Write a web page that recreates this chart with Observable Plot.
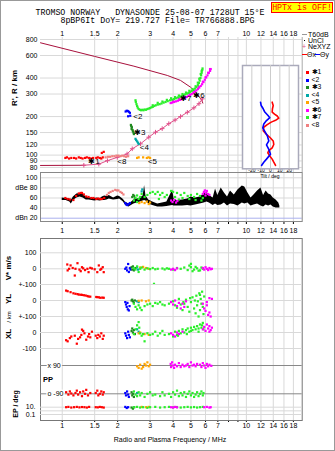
<!DOCTYPE html>
<html><head><meta charset="utf-8">
<script src="https://cdn.jsdelivr.net/npm/d3@7"></script>
<script src="https://cdn.jsdelivr.net/npm/@observablehq/plot@0.6"></script>
<style>
body{margin:0;background:#fff;}
#c{position:relative;width:335px;height:451px;overflow:hidden;background:#fff;font-family:"Liberation Sans",Arial,sans-serif;color:#000;}
#c svg{position:absolute;left:0;top:0;}
.t{position:absolute;white-space:nowrap;font-size:7px;line-height:1;}
.cc{transform:translate(-50%,-50%);}
.rot{transform:translate(-50%,-50%) rotate(-90deg);font-weight:bold;}
.mono{font-family:"Liberation Mono","DejaVu Sans Mono",monospace;font-size:8.3px;line-height:7px;}
#border{position:absolute;left:0;top:0;width:333px;height:449px;border:1px solid #999;pointer-events:none;}
</style></head><body><div id="c"></div>
<script>
// ---------- axes / ticks ----------
const topTicks = [1,1.5,2,3,4,5,6,7,8,10,12,14,16,18];
const botTicks = [1,1.5,2,3,4,5,6,7,8,9,10,12,14,16,18];
const htTicks = [80,90,100,120,150,200,300,400,600,800];
const dbTicks = [20,40,60,80,100];
const tiltTicks = [-20,-10,0,10,20];

// ---------- main panel: virtual height curve & Ne profile ----------
const virtF = [0.762,1.5,2.45,3.72,4.39,4.98,5.30,5.55,5.72,5.80];
const virtR = [754,590,495,419,383,339,310,285,268,255];
const neF = [0.762,1.31,1.58,1.76,1.99,2.25,2.40,2.66,2.95,3.21,3.49,3.79,4.1,4.39,4.78,5.19,5.53,5.77];
const neR = [83,83.3,85,90.5,96,102,112,122.5,138,151,161,176,188,200,216,234,252,275];

// ---------- main panel: echo traces per mode [MHz, km] ----------
const ht1 = [[1.04,95],[1.06,96],[1.09,94],[1.12,95],[1.16,95],[1.19,94],[1.23,96],[1.26,95],[1.29,94],[1.33,95],[1.36,96],[1.4,95],[1.43,94],[1.47,95],[1.53,95],[1.56,96],[1.6,95],[1.63,94],[1.66,96],[1.64,104],[1.68,106]];
const ht2 = [[2.21,219],[2.24,222],[2.27,221],[2.30,218],[2.33,214],[2.28,201],[2.34,203]];
const ht3 = [[2.36,172],[2.37,168],[2.39,165],[2.38,160],[2.41,157],[2.42,153],[2.44,150],[2.45,146]];
const ht4 = [[2.50,134],[2.52,131],[2.55,128],[2.58,125],[2.60,122]];
const ht5 = [[2.55,95],[2.60,96],[2.75,96],[2.88,95],[2.94,96],[3.0,95]];
const ht6 = [[3.88,255],[3.95,257],[4.05,260],[4.15,263],[4.25,266],[4.35,270],[4.45,273],[4.55,277],[4.65,281],[4.75,285],[4.85,290],[4.95,295],[5.05,300],[5.15,306],[5.25,313],[5.35,320],[5.45,328],[5.55,337],[5.65,347],[5.75,358],[5.85,372],[5.95,388],[6.05,405],[6.15,420],[6.25,438],[6.35,455],[6.40,470],[4.0,265],[4.3,276],[4.6,288],[4.9,302],[5.2,318],[5.5,342],[5.8,375],[6.0,405],[6.2,440],[6.35,470]];
const ht7 = [[2.50,268],[2.51,260],[2.53,250],[2.55,242],[2.57,235],[2.60,229],[2.64,226],[2.68,224],[2.72,226],[2.76,224],[2.80,227],[2.85,226],[2.90,229],[2.95,231],[3.0,233],[3.05,236],[3.10,238],[3.16,242],[3.22,245],[3.30,248],[3.38,250],[3.46,253],[3.55,257],[3.64,260],[3.74,264],[3.85,268],[3.95,271],[4.05,274],[4.15,278],[4.25,282],[4.35,286],[4.45,290],[4.55,294],[4.65,298],[4.75,302],[4.85,306],[4.95,311],[5.05,317],[5.15,323],[5.25,331],[5.35,340],[5.45,352],[5.52,366],[5.58,382],[5.63,400],[5.68,420],[5.72,440],[5.76,462],[5.78,475],[3.1,245],[3.3,256],[3.5,262],[3.7,270],[3.9,278],[4.1,284],[4.3,292],[4.5,300],[4.7,308],[4.9,318],[5.1,328],[5.3,345],[5.45,368],[5.55,395],[5.65,430],[5.72,455]];
const ht8 = [[1.72,96],[1.77,97],[1.82,97],[1.87,98],[1.92,98],[1.97,99],[2.02,99],[2.07,98],[2.12,99],[2.17,98],[2.22,97],[2.28,98]];
const labF = [1.384,2.43,2.45,2.64,2.92,5.15,4.36,1.99];
const labR = [89,199,151,115,90,295,279,90];
const labT = ["\u27311","<2","\u27313","<4","<5","\u27316","\u27317","<8"];

// ---------- tilt inset [deg, km] ----------
const tiltY = [[-10.7,259],[-10,244],[-7.8,230],[-6.1,217],[-2.9,205],[-0.7,196],[-4.3,186],[-7.2,175],[-8.3,163],[-6.1,153],[-3.5,142],[-1.8,129],[-4.3,120],[-1.8,111],[0,101.5],[-4.3,93],[-7.2,88],[-9.6,83]];
const tiltX = [[1.8,259],[2.9,244],[2.1,230],[1.8,217],[4.3,209],[7.2,202],[8.9,194.5],[5.4,187],[0.8,181],[-3.5,173],[-7.2,165],[-7.8,155],[-4.3,145],[0,136],[2.9,129],[3.5,121],[1.8,114],[-1.8,108.5],[-2.9,104],[-0.8,98.5],[1.8,93],[3.5,88],[5.4,83]];

// ---------- amplitude panel [MHz, dB] ----------
const amp = [[1.0,55,60],[1.05,55,59],[1.1,52,58],[1.12,48,55],[1.15,55,62],[1.2,60,68],[1.25,62,69],[1.3,60,67],[1.35,56,62],[1.4,56,60],[1.45,55,60],[1.5,54,59],[1.55,55,60],[1.6,54,58],[1.65,55,62],[1.7,55,64],[1.75,56,63],[1.8,58,65],[1.9,56,60],[2.0,57,64],[2.05,58,63],[2.1,55,60],[2.15,52,57],[2.2,46,52],[2.3,42,48],[2.35,44,50],[2.45,48,56],[2.55,50,58],[2.65,52,60],[2.75,54,64],[2.8,55,85],[2.85,54,64],[2.95,48,56],[3.1,45,52],[3.3,42,48],[3.5,42,50],[3.7,43,52],[3.98,45,76],[4.05,44,58],[4.2,44,55],[4.5,44,56],[4.8,45,58],[5.0,44,62],[5.3,46,60],[5.6,48,62],[5.9,50,68],[6.1,52,72],[6.3,50,65],[6.6,45,60],[6.8,48,78],[7.0,45,65],[7.3,46,80],[7.6,50,70],[7.9,44,62],[8.2,48,74],[8.6,47,66],[9.0,44,76],[9.5,50,84],[9.8,48,82],[10.2,50,70],[10.6,44,60],[11.0,46,66],[11.5,48,74],[12.0,44,80],[12.4,42,65],[12.8,46,74],[13.2,44,68],[13.6,46,66],[14.0,42,60],[14.5,40,56],[15.0,40,50],[15.2,40,44]];
const db1 = [[1.04,60],[1.07,58],[1.1,57],[1.15,56],[1.19,64],[1.23,69],[1.26,70],[1.28,70],[1.31,67],[1.35,63],[1.39,62],[1.44,60],[1.48,60],[1.53,58],[1.57,59],[1.61,58],[1.64,58],[1.69,60]];
const db8 = [[1.75,66],[1.79,70],[1.83,72],[1.88,74],[1.94,76],[1.98,75],[2.02,75],[2.07,72],[2.11,70],[2.15,67]];
const db2 = [[2.2,50],[2.23,47],[2.26,46],[2.29,48],[2.33,50]];
const db3 = [[2.4,62],[2.43,66],[2.46,64],[2.48,60]];
const db4 = [[2.7,73],[2.72,77]];
const db5 = [[2.62,50],[2.7,52],[2.8,50],[2.88,53],[2.95,48],[3.0,51]];
const db6 = [[3.9,55],[3.97,52],[4.05,56],[4.15,51],[4.22,54],[5.8,68],[5.88,72],[5.95,75],[6.02,70],[6.1,74],[6.2,68],[6.3,66],[6.0,65]];
const db7 = [[2.45,55],[2.5,60],[2.55,65],[2.6,58],[2.65,62],[2.7,68],[2.8,62],[2.9,66],[3.0,70],[3.1,72],[3.2,68],[3.3,72],[3.4,66],[3.5,70],[3.6,62],[3.7,66],[3.9,74],[4.0,72],[4.1,62],[4.2,70],[4.4,66],[4.5,60],[4.6,70],[4.8,64],[4.9,58],[5.0,66],[5.2,62],[5.3,56],[5.4,68],[5.6,64],[5.7,55],[5.8,60],[2.55,52],[3.35,58],[4.3,57]];

// ---------- V* (m/s) ----------
const vs1 = [[1.065,27],[1.11,21],[1.21,35],[1.18,0],[1.17,-42],[1.28,10],[1.37,0],[1.39,-21],[1.42,6],[1.58,21],[1.61,-6],[1.68,-21],[1.55,-21],[1.07,-10],[1.14,5],[1.24,-5],[1.3,3],[1.33,-8],[1.45,2],[1.5,-3],[1.63,0],[1.66,10],[1.09,0],[1.26,-15]];
const vs2 = [[2.2,0],[2.23,8],[2.25,-10],[2.28,30],[2.3,-20],[2.33,5],[2.35,-5]];
const vs3 = [[2.38,10],[2.4,-5],[2.42,15],[2.45,-10],[2.47,0],[2.5,5]];
const vs4 = [[2.55,10],[2.58,-5]];
const vs5 = [[2.65,8],[2.75,12],[2.85,5],[2.95,0]];
const vs6 = [[3.9,-5],[4.0,0],[4.1,-8],[4.2,3],[5.8,5],[5.9,-5],[6.0,10],[6.1,0],[6.2,-8],[6.3,5],[6.4,-3],[6.5,0]];
const vs7 = [[2.45,5],[2.5,-5],[2.55,15],[2.6,-20],[2.65,0],[2.7,8],[2.8,-5],[2.9,3],[3.0,-2],[3.1,5],[3.15,-94],[3.2,-3],[3.3,0],[3.5,2],[3.6,-4],[3.7,3],[3.8,0],[4.0,-5],[4.2,5],[4.4,0],[4.6,8],[4.8,-8],[5.0,10],[5.0,31],[5.2,-5],[5.4,3],[5.6,-10],[5.8,0],[4.9,20],[5.1,-15],[5.3,12],[5.5,-12],[5.7,8]];

// ---------- YL (km) ----------
const yl1 = [[1.05,62],[1.07,58],[1.11,52],[1.15,45],[1.18,42],[1.21,40],[1.23,37],[1.26,36],[1.28,35],[1.31,33],[1.34,31],[1.37,28],[1.39,25],[1.42,24],[1.53,22],[1.55,21],[1.58,20],[1.61,17],[1.65,18],[1.68,17]];
const yl2 = [[2.2,-10],[2.22,-25],[2.24,-40],[2.27,-55],[2.3,-62],[2.26,-15],[2.32,-35]];
const yl3 = [[2.38,0],[2.4,5],[2.42,-5],[2.45,-15],[2.48,0]];
const yl4 = [[2.55,-5],[2.6,-10]];
const yl5 = [[2.6,-2],[2.7,0],[2.85,-5],[2.95,0]];
const yl6 = [[3.9,-10],[4.0,-25],[4.1,0],[4.2,-35],[4.3,-15],[4.4,-50],[4.5,-20],[4.6,-40],[4.7,-5],[5.8,-20],[5.9,-50],[6.0,-65],[6.1,-30],[6.2,-90],[6.3,-75],[6.4,-100],[6.5,10],[6.3,15],[6.1,-10]];
const yl7 = [[2.45,-20],[2.5,-40],[2.55,-55],[2.6,-30],[2.65,-45],[2.7,-60],[2.8,-35],[2.9,-25],[3.0,-20],[3.1,-35],[3.2,-15],[3.3,-20],[3.4,-10],[3.5,-25],[3.6,-30],[3.8,-20],[4.0,-5],[4.1,-30],[4.2,-45],[4.3,10],[4.4,-25],[4.5,-60],[4.6,-20],[4.7,5],[4.8,-40],[4.9,-70],[5.0,-10],[5.1,20],[5.2,-50],[5.3,-80],[5.35,30],[5.4,-30],[5.5,-100],[5.55,45],[5.6,-60],[5.65,10],[5.7,-20],[5.75,55],[5.8,-40],[5.85,-85],[4.95,15],[5.45,-5],[5.25,0],[4.55,-10],[5.9,25],[5.6,35]];

// ---------- XL (km) ----------
const xl1 = [[1.05,-48],[1.07,-55],[1.1,-35],[1.12,-25],[1.17,-20],[1.2,-70],[1.22,-40],[1.25,-30],[1.27,-15],[1.3,10],[1.32,-5],[1.35,-45],[1.38,-25],[1.4,-10],[1.42,-30],[1.52,-20],[1.55,-35],[1.57,-15],[1.6,-25],[1.63,-5],[1.66,-40],[1.68,-20],[1.45,5],[1.28,18]];
const xl2 = [[2.2,-5],[2.22,-20],[2.25,-35],[2.28,5],[2.3,-15],[2.33,-30]];
const xl3 = [[2.38,10],[2.4,25],[2.42,0],[2.45,15],[2.48,-10]];
const xl4 = [[2.55,20],[2.6,5]];
const xl5 = [[2.6,-5],[2.65,0],[2.8,-10],[2.95,-15]];
const xl6 = [[3.9,-5],[4.0,-15],[4.1,-25],[4.2,0],[4.3,-10],[4.5,5],[5.8,20],[5.9,35],[6.0,10],[6.1,50],[6.2,25],[6.3,40],[6.4,15],[6.5,30],[6.3,5]];
const xl7 = [[2.45,-10],[2.5,20],[2.55,45],[2.6,65],[2.62,30],[2.65,-5],[2.7,-20],[2.75,-10],[2.8,-55],[2.9,-5],[3.0,-15],[3.1,-10],[3.2,5],[3.3,-20],[3.4,-5],[3.5,10],[3.6,-15],[3.8,-10],[4.0,-25],[4.1,5],[4.2,-15],[4.3,10],[4.4,-5],[4.5,20],[4.6,0],[4.7,15],[4.8,25],[4.9,5],[5.0,30],[5.1,15],[5.2,35],[5.3,20],[5.4,40],[5.5,25],[5.6,50],[5.7,30],[5.8,60],[5.85,20],[5.0,10],[5.5,5],[4.75,-10],[4.25,-20],[5.75,45]];

// ---------- PP (deg) ----------
const pp1 = [[1.05,-80],[1.08,-95],[1.1,-75],[1.12,-88],[1.15,-100],[1.18,-85],[1.2,-70],[1.22,-95],[1.25,-80],[1.28,-105],[1.3,-75],[1.33,-90],[1.35,-65],[1.38,-100],[1.42,-85],[1.52,-85],[1.55,-70],[1.57,-100],[1.6,-90],[1.63,-75],[1.66,-95],[1.68,-80]];
const pp2 = [[2.2,-85],[2.22,-100],[2.25,-75],[2.28,-95],[2.3,-110]];
const pp3 = [[2.38,-80],[2.4,-100],[2.42,-90],[2.45,-110]];
const pp4 = [[2.55,-85]];
const pp5 = [[2.55,85],[2.6,75],[2.65,95],[2.7,70],[2.75,80],[2.8,100],[2.85,90],[2.9,110],[2.95,85],[3.0,95]];
const pp6 = [[3.88,100],[3.9,80],[3.95,110],[4.0,90],[4.05,75],[4.1,95],[4.2,85],[4.3,105],[4.4,80],[4.5,95],[4.6,85],[4.7,90],[4.8,100],[4.9,80],[5.0,110],[5.1,90],[5.2,95],[5.3,85],[5.4,100],[5.6,95],[5.7,80],[5.8,105],[5.9,90],[6.0,75],[6.1,100],[6.2,85],[6.3,95],[6.45,88]];
const pp7 = [[2.45,-75],[2.5,-95],[2.55,-105],[2.6,-80],[2.65,-100],[2.7,-85],[2.8,-110],[2.9,-90],[3.0,-80],[3.1,-100],[3.2,-95],[3.4,-105],[3.5,-80],[3.6,-100],[3.8,-90],[3.9,-110],[4.0,-80],[4.1,-95],[4.2,-70],[4.3,-105],[4.4,-85],[4.5,-100],[4.6,-80],[4.7,-110],[4.8,-90],[4.9,-75],[5.0,-100],[5.1,-85],[5.2,-110],[5.3,-95],[5.4,-80],[5.5,-105],[5.6,-90],[5.7,-75],[5.8,-100],[5.85,-85]];

// ---------- EP (deg) ----------
const ep1 = [[1.05,10],[1.08,12],[1.12,8],[1.16,10],[1.2,12],[1.24,9],[1.28,11],[1.32,10],[1.36,8],[1.4,12],[1.52,10],[1.56,9],[1.6,12],[1.64,10],[1.68,8]];
const ep2 = [[2.2,12],[2.24,6],[2.28,10]];
const ep3 = [[2.38,8],[2.42,4],[2.46,10]];
const ep5 = [[2.7,12],[2.85,10],[2.95,12]];
const ep6 = [[3.9,10],[4.0,8],[4.1,12],[4.2,9],[5.9,10],[6.1,12],[6.3,8],[6.4,10]];
const ep7 = [[2.45,10],[2.55,12],[2.65,8],[2.75,10],[2.9,7],[3.0,10],[3.2,12],[3.4,8],[3.6,10],[3.8,12],[4.0,9],[4.2,11],[4.4,8],[4.6,10],[4.8,12],[5.0,9],[5.2,11],[5.4,8],[5.6,10],[5.8,12]];

// ---------- colours ----------
const C = {m1:"#ff0000", m2:"#0000ff", m3:"#208a20", m4:"#00a8a8", m5:"#ffa500", m6:"#ff00ff", m7:"#2bef2b", m8:"#f08080"};
const MAROON = "#a8103c", PINK = "#e0508a", GRID = "#d9d9d9";

// ---------- helpers ----------
const W = 335, H = 451, XL0 = 40, XR = 301.7;
const fDomain = [0.762, 20.1];
const c = document.getElementById("c");
const P = a => a.map(([f, v]) => ({f, v}));
const sq = (a, col) => Plot.dot(P(a), {x: "f", y: "v", fill: col, r: 1.25, symbol: "square"});
const xs = extra => ({type: "log", domain: fDomain, range: [XL0, XR], axis: null, ...extra});
const baseStyle = {background: "none", overflow: "visible", fontSize: "7px", fontFamily: "Liberation Sans, Arial, sans-serif", color: "#000"};
function add(o) {
  const svg = Plot.plot({width: W, height: H, marginLeft: XL0, marginRight: W - XR, ...o, style: {...baseStyle, ...(o.style || {})}});
  c.appendChild(svg);
}
function txt(s, x, y, cls, css) {
  const d = document.createElement("div");
  d.className = "t " + (cls || "");
  d.textContent = s;
  d.style.left = x + "px"; d.style.top = y + "px";
  if (css) Object.assign(d.style, css);
  c.appendChild(d);
  return d;
}

// ---------- main height panel ----------
add({
  marginTop: 37, marginBottom: H - 172,
  x: xs({axis: "top", ticks: topTicks, tickFormat: d => String(d), tickSize: 0, tickPadding: 2, label: null}),
  y: {type: "log", domain: [80, 800], range: [167, 39], ticks: htTicks, tickFormat: d => String(d), tickSize: 0, tickPadding: 3, label: null},
  marks: [
    Plot.ruleX(botTicks, {stroke: GRID}),
    Plot.ruleY(htTicks, {stroke: GRID}),
    Plot.ruleX([fDomain[1]], {stroke: "#aaa"}),
    Plot.line(virtF.map((f, i) => ({f, r: virtR[i]})), {x: "f", y: "r", stroke: MAROON, strokeWidth: 1}),
    Plot.line(neF.slice(0, 2).map((f, i) => ({f, r: neR[i]})), {x: "f", y: "r", stroke: MAROON, strokeWidth: 1}),
    Plot.line(neF.slice(1).map((f, i) => ({f, r: neR[i + 1]})), {x: "f", y: "r", stroke: PINK, strokeWidth: 1}),
    Plot.dot(neF.slice(1).map((f, i) => ({f, r: neR[i + 1]})), {x: "f", y: "r", symbol: "plus", r: 1.6, stroke: PINK, strokeWidth: 1}),
    ...[ [ht1, C.m1], [ht8, C.m8], [ht5, C.m5], [ht2, C.m2], [ht3, C.m3], [ht4, C.m4], [ht6, C.m6], [ht7, C.m7] ].map(([a, col]) => sq(a, col)),
    Plot.text(labT.map((t, i) => ({t, f: labF[i], r: labR[i]})), {x: "f", y: "r", text: "t", textAnchor: "start", fontSize: 8, fill: "#000"})
  ]
});

// ---------- tilt inset ----------
add({
  marginLeft: 242, marginRight: W - 298, marginTop: 65, marginBottom: H - 168.3,
  x: {domain: [-30, 30], range: [242, 298], ticks: tiltTicks, tickFormat: d => String(d), tickSize: 0, tickPadding: 0, label: null},
  y: {type: "log", domain: [80, 800], range: [167, 39], axis: null},
  style: {fontSize: "5px"},
  marks: [
    Plot.frame({fill: "white", stroke: "#aab", strokeWidth: 1.5}),
    Plot.ruleX(tiltTicks, {stroke: "#ccc"}),
    Plot.line(P(tiltX), {x: "f", y: "v", stroke: "#ff0000", strokeWidth: 1.6}),
    Plot.line(P(tiltY), {x: "f", y: "v", stroke: "#0000ff", strokeWidth: 1.6})
  ]
});

// ---------- amplitude panel ----------
add({
  marginTop: 172, marginBottom: H - 221,
  x: xs({axis: "bottom", ticks: botTicks, tickFormat: d => String(d), tickSize: 3, tickPadding: 4, label: null}),
  y: {domain: [20, 100], range: [217.7, 177.3], ticks: dbTicks, tickFormat: d => d === 80 ? "dBe 80" : d === 20 ? "dBn 20" : String(d), tickSize: 0, tickPadding: 3, label: null},
  marks: [
    Plot.ruleX(botTicks, {stroke: GRID}),
    Plot.ruleY([40, 60, 80, 100], {stroke: GRID}),
    Plot.ruleY([20], {stroke: "#aab0ee"}),
    Plot.frame({stroke: "#888", strokeWidth: 1}),
    Plot.areaY(amp.map(([f, lo, hi]) => ({f, lo, hi})), {x: "f", y1: "lo", y2: "hi", fill: "#000"}),
    ...[ [db1, C.m1], [db8, C.m8], [db2, C.m2], [db3, C.m3], [db5, C.m5], [db7, C.m7], [db4, C.m4], [db6, C.m6] ].map(([a, col]) => sq(a, col))
  ]
});

// ---------- lower panel frame ----------
add({
  marginTop: 238, marginBottom: H - 420,
  x: xs({axis: "bottom", ticks: botTicks, tickFormat: d => String(d), tickSize: 2, tickPadding: 1, label: null}),
  y: {domain: [0, 1], axis: null},
  marks: [
    Plot.ruleX(botTicks, {stroke: GRID}),
    Plot.frame({stroke: "#777"})
  ]
});

// V*
add({
  marginTop: 238, marginBottom: H - 420,
  x: xs(),
  y: {domain: [-100, 100], range: [284.3, 252.3], ticks: [100, 0], tickFormat: d => String(d), tickSize: 0, tickPadding: 4, label: null},
  marks: [
    Plot.ruleY([100, 0], {stroke: GRID}),
    ...[ [vs1, C.m1], [vs2, C.m2], [vs3, C.m3], [vs4, C.m4], [vs5, C.m5], [vs7, C.m7], [vs6, C.m6] ].map(([a, col]) => sq(a, col))
  ]
});
// YL
add({
  marginTop: 238, marginBottom: H - 420,
  x: xs(),
  y: {domain: [-100, 100], range: [316, 284], ticks: [100, 0, -100], tickFormat: d => d === 0 ? "0" : "+-100", tickSize: 0, tickPadding: 4, label: null},
  marks: [
    Plot.ruleY([100, 0, -100], {stroke: GRID}),
    ...[ [yl1, C.m1], [yl2, C.m2], [yl3, C.m3], [yl4, C.m4], [yl5, C.m5], [yl7, C.m7], [yl6, C.m6] ].map(([a, col]) => sq(a, col))
  ]
});
// XL
add({
  marginTop: 238, marginBottom: H - 420,
  x: xs(),
  y: {domain: [-100, 100], range: [348, 316], ticks: [0, -100], tickFormat: d => String(d), tickSize: 0, tickPadding: 4, label: null},
  marks: [
    Plot.ruleY([0, -100], {stroke: GRID}),
    ...[ [xl1, C.m1], [xl2, C.m2], [xl3, C.m3], [xl4, C.m4], [xl5, C.m5], [xl7, C.m7], [xl6, C.m6] ].map(([a, col]) => sq(a, col))
  ]
});
// PP
add({
  marginTop: 238, marginBottom: H - 420,
  x: xs(),
  y: {domain: [-90, 90], range: [393.3, 365], axis: null},
  marks: [
    Plot.ruleY([90, -90], {stroke: "#888"}),
    Plot.text([90, -90], {y: d => d, text: d => d > 0 ? "x 90" : "o -90", frameAnchor: "left", dx: 7, textAnchor: "start", fontSize: 7, fill: "#000", stroke: "white", strokeWidth: 3}),
    ...[ [pp1, C.m1], [pp2, C.m2], [pp3, C.m3], [pp4, C.m4], [pp5, C.m5], [pp7, C.m7], [pp6, C.m6] ].map(([a, col]) => sq(a, col))
  ]
});
// EP
add({
  marginTop: 238, marginBottom: H - 420,
  x: xs(),
  y: {type: "log", domain: [0.1, 10], range: [414, 406.7], ticks: [10, 0.1], tickFormat: d => d === 10 ? "10." : "0.1", tickSize: 0, tickPadding: 5, label: null},
  marks: [
    Plot.ruleY([10, 1, 0.1], {stroke: GRID}),
    ...[ [ep1, C.m1], [ep2, C.m2], [ep3, C.m3], [ep5, C.m5], [ep7, C.m7], [ep6, C.m6] ].map(([a, col]) => sq(a, col))
  ]
});

// ---------- texts ----------
txt("TROMSO NORWAY   DYNASONDE 25-08-07 1728UT 15\u00B0E", 150, 12.3, "cc mono", {whiteSpace: "pre"});
txt("8pBP6It DoY= 219.727 File= TR766888.BPG", 157.5, 19.9, "cc mono", {whiteSpace: "pre"});
txt("HPTx is OFF!", 271, 2, "mono", {width: "60px", height: "9px", background: "#ffff00", border: "1px solid #ff0000", color: "#ff0000", textAlign: "center", lineHeight: "9px"});
txt("R', R / km", 15, 88, "rot", {fontSize: "8px"});
txt("Tilt / deg", 270, 176.3, "cc", {fontSize: "5px"});
txt("V* m/s", 8.5, 268, "rot", {fontSize: "8px"});
txt("YL", 8.5, 299, "rot", {fontSize: "8px"});
txt("/ km", 8.5, 316.5, "rot", {fontSize: "6px", fontWeight: "normal"});
txt("XL", 8.5, 334, "rot", {fontSize: "8px"});
txt("PP", 43, 375.5, "", {fontWeight: "bold", fontSize: "7.5px"});
txt("EP / deg", 15, 404, "rot", {fontSize: "7px"});
txt("Radio and Plasma Frequency / MHz", 170, 439.3, "cc", {fontSize: "7px"});

// legend
txt("", 302, 34.3, "", {width: "5px", height: "1px", background: "#999"});
txt("T60dB", 308, 34.3, "", {transform: "translateY(-50%)"});
txt("", 304, 39.5, "", {width: "1px", height: "1px", background: "#000"});
txt("UnCl", 308, 40, "", {transform: "translateY(-50%)"});
txt("+", 302, 45.7, "", {transform: "translateY(-50%)", color: PINK});
txt("NeXYZ", 308, 45.7, "", {transform: "translateY(-50%)"});
txt("", 302, 53.5, "", {width: "5px", height: "1px", background: "#ff0000"});
txt("\u0398x", 307, 54, "", {transform: "translateY(-50%)"});
txt("", 314.5, 53.5, "", {width: "5px", height: "1px", background: "#0000ff"});
txt("\u0398y", 320, 54, "", {transform: "translateY(-50%)"});
const modeLab = ["\u27311", "<2", "\u27313", "<4", "<5", "\u27316", "\u27317", "<8"];
const modeCol = [C.m1, C.m2, C.m3, C.m4, C.m5, C.m6, C.m7, C.m8];
const modeY = [72.3, 80, 87.7, 95, 102.3, 110, 117.3, 125];
modeLab.forEach((m, i) => {
  txt("", 305.5, modeY[i] - 1.5, "", {width: "3px", height: "3px", background: modeCol[i]});
  txt(m, 311.5, modeY[i] - 3.3, "", {fontSize: "6.8px", lineHeight: "6.6px", height: "6.6px", overflow: "visible"});
});
const b = document.createElement("div"); b.id = "border"; c.appendChild(b);
</script></body></html>
